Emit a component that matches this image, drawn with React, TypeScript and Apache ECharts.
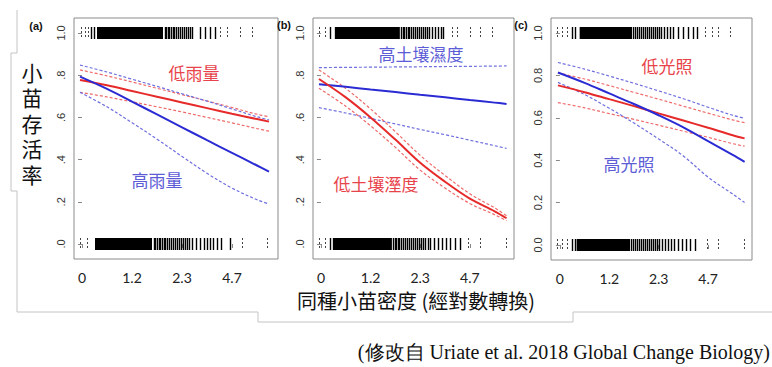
import React, { useEffect, useRef } from "react";
import * as echarts from "echarts";

// ---- axes ----
const densityTicks = [0, 1, 2, 3];
const densityLabels = ["0", "1.2", "2.3", "4.7"];
const survivalTicks = [0, 0.2, 0.4, 0.6, 0.8, 1.0];
const survivalLabelsAB = [".0", ".2", ".4", ".6", ".8", "1.0"];
const survivalLabelsC = ["0.0", "0.2", "0.4", "0.6", "0.8", "1.0"];

// ---- fitted curves (x = position on log-density axis) ----
const xs = [-0.04, 0.5, 1, 1.5, 2, 2.5, 3, 3.5, 3.74];

// (a) rainfall
const aLowFit = [0.777, 0.752, 0.725, 0.698, 0.671, 0.644, 0.617, 0.592, 0.58];
const aLowUp = [0.825, 0.797, 0.768, 0.738, 0.708, 0.678, 0.647, 0.615, 0.603];
const aLowLo = [0.719, 0.697, 0.674, 0.65, 0.626, 0.6, 0.574, 0.547, 0.535];
const aHighFit = [0.793, 0.735, 0.675, 0.614, 0.553, 0.492, 0.432, 0.372, 0.343];
const aHighUp = [0.848, 0.815, 0.781, 0.747, 0.712, 0.677, 0.64, 0.603, 0.588];
const aHighLo = [0.719, 0.65, 0.575, 0.497, 0.415, 0.335, 0.265, 0.21, 0.19];

// (b) soil moisture
const bHighFit = [0.757, 0.745, 0.732, 0.72, 0.707, 0.695, 0.682, 0.67, 0.664];
const bHighUp = [0.836, 0.837, 0.838, 0.839, 0.84, 0.841, 0.842, 0.843, 0.844];
const bHighLo = [0.646, 0.621, 0.595, 0.569, 0.543, 0.518, 0.492, 0.466, 0.453];
const bLowFit = [0.782, 0.695, 0.6, 0.495, 0.385, 0.295, 0.215, 0.155, 0.122];
const bLowUp = [0.825, 0.737, 0.64, 0.532, 0.42, 0.325, 0.238, 0.171, 0.134];
const bLowLo = [0.738, 0.653, 0.56, 0.458, 0.35, 0.265, 0.192, 0.139, 0.11];

// (c) light
const cLowFit = [0.753, 0.721, 0.688, 0.655, 0.621, 0.587, 0.553, 0.518, 0.503];
const cLowUp = [0.812, 0.783, 0.752, 0.72, 0.688, 0.655, 0.622, 0.59, 0.577];
const cLowLo = [0.672, 0.647, 0.62, 0.593, 0.565, 0.537, 0.508, 0.478, 0.466];
const cHighFit = [0.814, 0.765, 0.715, 0.665, 0.612, 0.555, 0.49, 0.425, 0.392];
const cHighUp = [0.861, 0.83, 0.797, 0.763, 0.727, 0.69, 0.65, 0.612, 0.598];
const cHighLo = [0.767, 0.71, 0.645, 0.575, 0.5, 0.42, 0.32, 0.24, 0.2];

// ---- rug of observations (survived = 1, died = 0) ----
const aTopBands = [[0.3, 1.62]];
const aTopTicks = [0.18, 0.24, 1.65, 1.68, 1.71, 1.74, 1.78, 1.81, 1.84, 1.88, 1.92, 1.96, 2.0, 2.04, 2.08, 2.12, 2.16, 2.2, 2.36, 2.46, 2.56, 2.66];
const aTopDots = [-0.02, 0.06, 0.12, 2.76, 2.9, 3.16, 3.4];
const aBotBands = [[0.26, 1.4]];
const aBotTicks = [1.43, 1.46, 1.5, 1.53, 1.56, 1.6, 1.63, 1.66, 1.7, 1.74, 1.78, 1.82, 1.86, 1.9, 1.94, 1.98, 2.02, 2.06, 2.1, 2.14, 2.2, 2.28, 2.36, 2.44, 2.5, 2.56, 2.62, 2.7, 2.78, 2.96];
const aBotDots = [-0.04, 0.1, 3.2, 3.7];

const bTopBands = [[0.28, 1.59]];
const bTopTicks = [0.18, 1.62, 1.65, 1.68, 1.72, 1.75, 1.78, 1.82, 1.86, 1.9, 1.94, 1.98, 2.02, 2.06, 2.1, 2.14, 2.18, 2.24, 2.3, 2.36, 2.42, 2.45];
const bTopDots = [-0.04, 0.08, 2.64, 2.74, 3.0, 3.2, 3.44];
const bBotBands = [[0.24, 1.43]];
const bBotTicks = [0.18, 1.46, 1.49, 1.52, 1.55, 1.58, 1.62, 1.66, 1.7, 1.74, 1.78, 1.82, 1.86, 1.9, 1.94, 1.98, 2.02, 2.06, 2.1, 2.15, 2.2, 2.28, 2.36, 2.44, 2.52, 2.6, 2.7, 2.8];
const bBotDots = [-0.04, 0.08, 2.96, 3.2, 3.72];

const cTopBands = [[0.4, 1.46]];
const cTopTicks = [0.24, 0.3, 1.49, 1.52, 1.56, 1.6, 1.64, 1.68, 1.72, 1.76, 1.8, 1.84, 1.88, 1.92, 1.96, 2.0, 2.04, 2.1, 2.16, 2.22, 2.29, 2.4, 2.5, 2.6, 2.7, 2.78];
const cTopDots = [-0.06, 0.04, 0.14, 2.94, 3.08, 3.2, 3.45];
const cBotBands = [[0.34, 1.42]];
const cBotTicks = [0.24, 0.3, 1.45, 1.48, 1.52, 1.56, 1.6, 1.64, 1.68, 1.72, 1.76, 1.8, 1.84, 1.88, 1.92, 1.96, 2.0, 2.06, 2.12, 2.18, 2.25, 2.32, 2.4, 2.48, 2.56, 2.64, 2.74];
const cBotDots = [-0.06, 0.04, 0.14, 2.98, 3.2, 3.72];

// ---- texts ----
const yTitle = ["小", "苗", "存", "活", "率"];
const xTitle = "同種小苗密度 (經對數轉換)";
const citation = "(修改自 Uriate et al. 2018 Global Change Biology)";
const panelTags = ["(a)", "(b)", "(c)"];
const aLowName = "低雨量";
const aHighName = "高雨量";
const bHighName = "高土壤濕度";
const bLowName = "低土壤溼度";
const cLowName = "低光照";
const cHighName = "高光照";

const RED = "#e62a2a";
const RED_D = "#ef6a6a";
const BLUE = "#2b2bd4";
const BLUE_D = "#6f6fe0";
const RED_T = "#e8434a";
const BLUE_T = "#5c5cd6";

function curve(g: number, ys: number[], color: string, dashed: boolean) {
  return {
    type: "line",
    xAxisIndex: g,
    yAxisIndex: g,
    data: xs.map((x, i) => [x, ys[i]]),
    showSymbol: false,
    smooth: 0.35,
    z: dashed ? 3 : 4,
    lineStyle: dashed
      ? { color, width: 1.2, type: [3, 2] }
      : { color, width: 2 },
  };
}

function rug(g: number, level: number, bands: number[][], ticks: number[], dots: number[]) {
  const data: number[][] = [];
  bands.forEach((b) => data.push([b[0], b[1], level, 0]));
  ticks.forEach((t) => data.push([t, t, level, 1]));
  dots.forEach((t) => data.push([t, t, level, 2]));
  return {
    type: "custom",
    xAxisIndex: g,
    yAxisIndex: g,
    data,
    encode: { x: [0, 1], y: 2 },
    z: 2,
    renderItem: (params: any, api: any) => {
      const x0 = api.value(0);
      const x1 = api.value(1);
      const lv = api.value(2);
      const kind = api.value(3);
      const p0 = api.coord([x0, lv]);
      const p1 = api.coord([x1, lv]);
      const yc = Math.round(p0[1]);
      if (kind === 0) {
        return {
          type: "rect",
          shape: { x: p0[0], y: yc - 6, width: Math.max(1, p1[0] - p0[0]), height: 12 },
          style: { fill: "#000" },
        };
      }
      const xc = Math.round(p0[0]) + 0.5;
      return {
        type: "line",
        shape: { x1: xc, y1: yc - 6, x2: xc, y2: yc + 6 },
        style: {
          stroke: kind === 1 ? "#000" : "#444",
          lineWidth: kind === 1 ? 1.4 : 1,
          lineDash: kind === 2 ? [2, 2] : null,
        },
      };
    },
  };
}

const grids = [
  { left: 74, top: 18, width: 204, height: 241 },
  { left: 313, top: 18, width: 201, height: 241 },
  { left: 551, top: 18, width: 201, height: 242 },
];
const xRanges = [
  [-0.16, 3.92],
  [-0.16, 3.89],
  [-0.18, 3.89],
];

function buildOption() {
  const grid = grids.map((g) => ({
    ...g,
    show: true,
    borderColor: "#8a8a8a",
    borderWidth: 1,
    backgroundColor: "transparent",
  }));
  const xAxis = xRanges.map((r, i) => ({
    type: "value",
    gridIndex: i,
    min: r[0],
    max: r[1],
    offset: 1,
    axisLine: { show: false },
    splitLine: { show: false },
    axisTick: { show: true, length: 4, customValues: densityTicks, lineStyle: { color: "#888" } },
    axisLabel: {
      show: true,
      customValues: densityTicks,
      margin: 10,
      color: "#222",
      fontSize: 14,
      fontFamily: "Lato, 'Open Sans', sans-serif",
      formatter: (v: number) => densityLabels[densityTicks.indexOf(Math.round(v))] ?? "",
    },
  }));
  const yAxis = [0, 1, 2].map((i) => ({
    type: "value",
    gridIndex: i,
    min: -0.071,
    max: 1.071,
    offset: 3,
    axisLine: { show: false },
    splitLine: { show: false },
    axisTick: { show: true, length: 4, customValues: survivalTicks, lineStyle: { color: "#888" } },
    axisLabel: {
      show: true,
      customValues: survivalTicks,
      rotate: 90,
      margin: 5,
      color: "#333",
      fontSize: 11,
      fontFamily: "'Liberation Sans', Arial, sans-serif",
      formatter: (v: number) => {
        const k = survivalTicks.findIndex((t) => Math.abs(t - v) < 1e-6);
        if (k < 0) return "";
        return i === 2 ? survivalLabelsC[k] : survivalLabelsAB[k];
      },
    },
  }));

  const series: any[] = [
    rug(0, 1, aTopBands, aTopTicks, aTopDots),
    rug(0, 0, aBotBands, aBotTicks, aBotDots),
    rug(1, 1, bTopBands, bTopTicks, bTopDots),
    rug(1, 0, bBotBands, bBotTicks, bBotDots),
    rug(2, 1, cTopBands, cTopTicks, cTopDots),
    rug(2, 0, cBotBands, cBotTicks, cBotDots),

    curve(0, aLowUp, RED_D, true),
    curve(0, aLowLo, RED_D, true),
    curve(0, aHighUp, BLUE_D, true),
    curve(0, aHighLo, BLUE_D, true),
    curve(0, aLowFit, RED, false),
    curve(0, aHighFit, BLUE, false),

    curve(1, bHighUp, BLUE_D, true),
    curve(1, bHighLo, BLUE_D, true),
    curve(1, bLowUp, RED_D, true),
    curve(1, bLowLo, RED_D, true),
    curve(1, bHighFit, BLUE, false),
    curve(1, bLowFit, RED, false),

    curve(2, cLowUp, RED_D, true),
    curve(2, cLowLo, RED_D, true),
    curve(2, cHighUp, BLUE_D, true),
    curve(2, cHighLo, BLUE_D, true),
    curve(2, cLowFit, RED, false),
    curve(2, cHighFit, BLUE, false),
  ];

  const cjk = "'Noto Sans CJK TC', 'Noto Sans CJK SC', sans-serif";
  const label = (text: string, x: number, y: number, fill: string) => ({
    type: "text",
    x,
    y,
    z: 10,
    style: { text, fill, font: `17px ${cjk}`, textAlign: "center", textVerticalAlign: "middle" },
  });

  const graphic: any[] = [
    {
      type: "polyline",
      z: 1,
      shape: {
        points: [
          [17, 10], [17, 53], [11, 53], [11, 191], [17, 191], [17, 312],
          [258, 312], [258, 322], [573, 322], [573, 312], [772, 312],
        ],
      },
      style: { stroke: "#c4c4c4", lineWidth: 1, fill: null },
    },
    ...yTitle.map((ch, k) => ({
      type: "text",
      x: 32,
      y: 72 + k * 25.4,
      z: 10,
      style: {
        text: ch,
        fill: "#111",
        font: `21px ${cjk}`,
        textAlign: "center",
        textVerticalAlign: "middle",
      },
    })),
    {
      type: "text",
      x: 416,
      y: 300,
      z: 10,
      style: { text: xTitle, fill: "#111", font: `20px ${cjk}`, textAlign: "center", textVerticalAlign: "middle" },
    },
    {
      type: "text",
      x: 770,
      y: 352,
      z: 10,
      style: {
        text: citation,
        fill: "#111",
        font: `20px 'Liberation Serif', 'Times New Roman', serif`,
        textAlign: "right",
        textVerticalAlign: "middle",
      },
    },
    ...[
      [36, 26],
      [284, 25],
      [521, 25],
    ].map((p, i) => ({
      type: "text",
      x: p[0],
      y: p[1],
      z: 10,
      style: {
        text: panelTags[i],
        fill: "#111",
        font: `bold 11px 'Liberation Sans', Arial, sans-serif`,
        textAlign: "center",
        textVerticalAlign: "middle",
      },
    })),
    label(aLowName, 194, 72, RED_T),
    label(aHighName, 157, 179, BLUE_T),
    label(bHighName, 421, 53, BLUE_T),
    label(bLowName, 376, 183, RED_T),
    label(cLowName, 667, 65, RED_T),
    label(cHighName, 629, 163, BLUE_T),
  ];

  return {
    animation: false,
    backgroundColor: "#fff",
    grid,
    xAxis,
    yAxis,
    series,
    graphic,
  };
}

export default function App() {
  const ref = useRef<HTMLDivElement>(null);
  useEffect(() => {
    const chart = echarts.init(ref.current!, null, { renderer: "svg" });
    chart.setOption(buildOption() as any);
    return () => chart.dispose();
  }, []);
  return (
    <div
      ref={ref}
      style={{ position: "fixed", left: 0, top: 0, width: 772, height: 367, background: "#fff" }}
    />
  );
}
